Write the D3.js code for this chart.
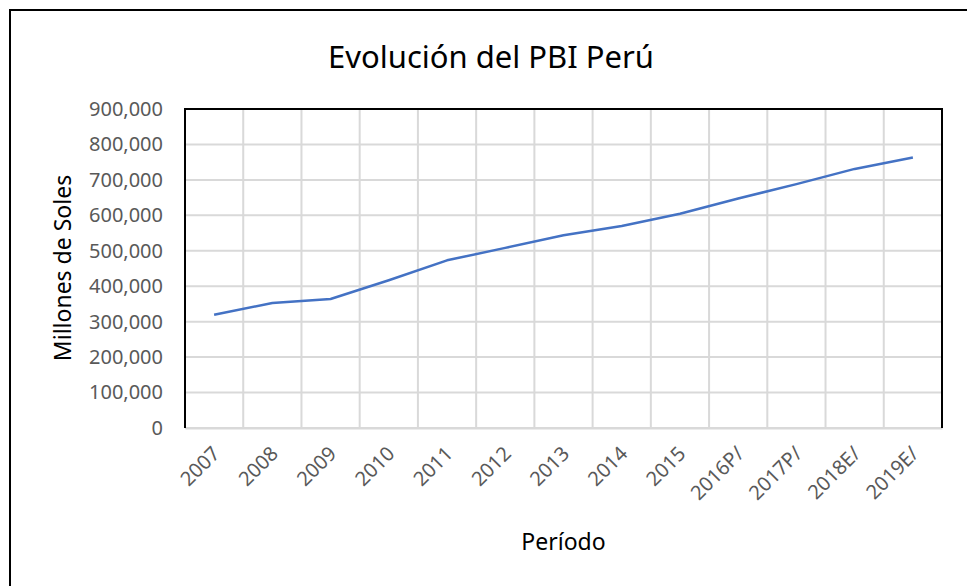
<!DOCTYPE html>
<html>
<head>
<meta charset="utf-8">
<script src="https://cdn.jsdelivr.net/npm/d3@7"></script>
<style>
  body { margin: 0; background: #fff; }
  svg { display: block; font-family: "Noto Sans", "Open Sans", sans-serif; }
</style>
</head>
<body>
<div id="chart"></div>
<script>
// data (millones de soles)
var periods = ["2007", "2008", "2009", "2010", "2011", "2012", "2013", "2014", "2015", "2016P/", "2017P/", "2018E/", "2019E/"];
var pbi = [319693, 352719, 363943, 416784, 473049, 508131, 543670, 570041, 604416, 647668, 687989, 731000, 763000];
var yTicks = [0, 100000, 200000, 300000, 400000, 500000, 600000, 700000, 800000, 900000];

var W = 967, H = 586;
var margin = { top: 109, right: 25, bottom: 158, left: 185 },
    width = 942 - margin.left,
    height = 428 - margin.top;

var svg = d3.select("#chart").append("svg")
    .attr("width", W)
    .attr("height", H);

// outer chart frame (cut off at right/bottom like the screenshot)
svg.append("rect")
    .attr("x", 10).attr("y", 10)
    .attr("width", 1000).attr("height", 1000)
    .attr("fill", "#fff")
    .attr("stroke", "#000")
    .attr("stroke-width", 2);

var g = svg.append("g")
    .attr("transform", "translate(" + margin.left + "," + margin.top + ")");

// scales
var x = d3.scaleBand().domain(periods).range([0, width]).padding(0);
var y = d3.scaleLinear().domain([0, 900000]).range([height, 0]);

// horizontal gridlines
g.append("g")
    .selectAll("line")
    .data(yTicks)
    .enter().append("line")
    .attr("x1", 0).attr("x2", width)
    .attr("y1", function(d) { return y(d); })
    .attr("y2", function(d) { return y(d); })
    .attr("stroke", "#d9d9d9")
    .attr("stroke-width", 2);

// vertical gridlines at category boundaries
g.append("g")
    .selectAll("line")
    .data(periods.slice(1))
    .enter().append("line")
    .attr("x1", function(d) { return x(d); })
    .attr("x2", function(d) { return x(d); })
    .attr("y1", 0).attr("y2", height)
    .attr("stroke", "#d9d9d9")
    .attr("stroke-width", 2);

// y axis labels
var yAxis = d3.axisLeft(y)
    .tickValues(yTicks)
    .tickSize(0)
    .tickPadding(22)
    .tickFormat(d3.format(","));

var gY = g.append("g").call(yAxis);
gY.select(".domain").remove();
gY.selectAll("text")
    .attr("fill", "#595959")
    .style("font-size", "20px")
    .style("font-family", "'Noto Sans', sans-serif");

// x axis labels
var xAxis = d3.axisBottom(x).tickSize(0).tickPadding(0);
var gX = g.append("g")
    .attr("transform", "translate(0," + height + ")")
    .call(xAxis);
gX.select(".domain")
    .attr("stroke", "#d9d9d9")
    .attr("stroke-width", 2);
gX.selectAll("text")
    .attr("fill", "#595959")
    .style("font-size", "20px")
    .style("font-family", "'Noto Sans', sans-serif")
    .style("text-anchor", "end")
    .attr("dy", "0")
    .attr("transform", "translate(7,27) rotate(-45)");

// plot border: black on top, left and right
g.append("path")
    .attr("d", "M0," + height + "V0H" + width + "V" + height)
    .attr("fill", "none")
    .attr("stroke", "#000")
    .attr("stroke-width", 2);

// the line
var line = d3.line()
    .x(function(d, i) { return x(periods[i]) + x.bandwidth() / 2; })
    .y(function(d) { return y(d); });

g.append("path")
    .datum(pbi)
    .attr("d", line)
    .attr("fill", "none")
    .attr("stroke", "#4472c4")
    .attr("stroke-width", 2.5)
    .attr("stroke-linejoin", "round");

// title
svg.append("text")
    .attr("x", 491).attr("y", 68)
    .attr("text-anchor", "middle")
    .style("font-size", "31px")
    .attr("fill", "#000")
    .text("Evolución del PBI Perú");

// axis titles
svg.append("text")
    .attr("transform", "translate(71,268) rotate(-90)")
    .attr("text-anchor", "middle")
    .style("font-size", "23px")
    .attr("fill", "#000")
    .text("Millones de Soles");

svg.append("text")
    .attr("x", margin.left + width / 2).attr("y", 550)
    .attr("text-anchor", "middle")
    .style("font-size", "23px")
    .attr("fill", "#000")
    .text("Período");
</script>
</body>
</html>
